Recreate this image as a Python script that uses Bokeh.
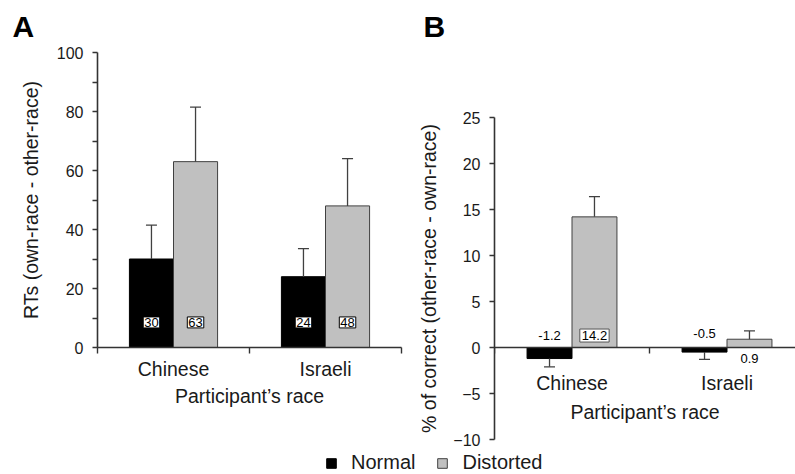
from bokeh.plotting import figure
from bokeh.models import Range1d, FixedTicker, Legend, LegendItem, Title
from bokeh.layouts import row, column
from bokeh.core.properties import value
from bokeh.embed import file_html
from bokeh.resources import INLINE

# ---------------- data ----------------
categories = ["Chinese", "Israeli"]
series = ["Normal", "Distorted"]

# Panel A: RTs (own-race - other-race)
rt_normal = [30, 24]
rt_distorted = [63, 48]
rt_normal_err = [41.5, 33.5]      # upper end of error bar
rt_distorted_err = [81.5, 64.0]
rt_ticks = [0, 20, 40, 60, 80, 100]
rt_minor_ticks = [10, 30, 50, 70, 90]

# Panel B: % of correct (other-race - own-race)
acc_normal = [-1.2, -0.5]
acc_distorted = [14.2, 0.9]
acc_normal_err = [-2.1, -1.3]     # end of error bar
acc_distorted_err = [16.4, 1.8]
acc_ticks = [-10, -5, 0, 5, 10, 15, 20, 25]

# ---------------- style ----------------
FONT = "Liberation Sans"
TXT = "#1a1a1a"
AX = "#333333"
C_NORMAL = "#000000"
C_DIST = "#c0c0c0"
BAR_W = 0.29
OFF = 0.145

cat_centers = [i + 0.5 for i in range(len(categories))]
cat_bounds = [i for i in range(len(categories) + 1)]


def style(p):
    p.outline_line_color = None
    p.background_fill_color = "white"
    p.border_fill_color = "white"
    p.xgrid.visible = False
    p.ygrid.visible = False
    for ax in p.axis:
        ax.axis_line_color = AX
        ax.axis_line_width = 1.6
        ax.major_tick_line_color = AX
        ax.minor_tick_line_color = AX
        ax.major_tick_line_width = 1.4
        ax.minor_tick_line_width = 1.4
        ax.major_tick_in = 0
        ax.minor_tick_in = 0
        ax.major_label_text_font = FONT
        ax.major_label_text_color = TXT
        ax.axis_label_text_font = FONT
        ax.axis_label_text_color = TXT
        ax.axis_label_text_font_style = "normal"
        ax.axis_label_text_font_size = "19.5px"
    xa = p.xaxis[0]
    xa.ticker = FixedTicker(ticks=cat_centers, minor_ticks=cat_bounds)
    xa.major_label_overrides = {c: n for c, n in zip(cat_centers, categories)}
    xa.major_tick_out = 0
    xa.minor_tick_out = 6
    xa.major_label_text_font_size = "19.5px"
    xa.axis_label = "Participant\u2019s race"
    ya = p.yaxis[0]
    ya.major_tick_out = 5
    ya.minor_tick_out = 5
    ya.major_label_text_font_size = "16px"
    ya.major_label_standoff = 9


def panel_title(p, text, offset, standoff):
    p.title = Title(text=text, align="left", offset=offset, standoff=standoff,
                    vertical_align="top", text_font=FONT, text_font_size="30px",
                    text_font_style="bold", text_color="#000000")


def draw(p, normal, distorted, nerr, derr):
    xn = [c - OFF for c in cat_centers]
    xd = [c + OFF for c in cat_centers]
    p.vbar(x=xn, top=normal, bottom=0, width=BAR_W, fill_color=C_NORMAL,
           line_color="#000000", line_width=1)
    p.vbar(x=xd, top=distorted, bottom=0, width=BAR_W, fill_color=C_DIST,
           line_color="#404040", line_width=1)
    for xs, v, e in ((xn, normal, nerr), (xd, distorted, derr)):
        p.segment(x0=xs, y0=v, x1=xs, y1=e, line_color="#404040", line_width=1.3)
        p.scatter(x=xs, y=e, marker="dash", size=11, line_color="#404040", line_width=1.3)
    return xn, xd


ROW_H = 450

# ---------------- Panel A ----------------
pA = figure(width=408, height=ROW_H, x_range=Range1d(0, 2), y_range=Range1d(0, 100),
            toolbar_location=None, output_backend="svg", frame_align=False,
            min_border_left=97, min_border_right=7, min_border_top=52,
            min_border_bottom=ROW_H - 347)
style(pA)
panel_title(pA, "A", -85, 15)
pA.yaxis[0].ticker = FixedTicker(ticks=rt_ticks, minor_ticks=rt_minor_ticks)
pA.yaxis[0].axis_label = "RTs (own-race - other-race)"
pA.yaxis[0].axis_label_standoff = 12
pA.xaxis[0].major_label_standoff = 4
pA.xaxis[0].axis_label_standoff = 2
xnA, xdA = draw(pA, rt_normal, rt_distorted, rt_normal_err, rt_distorted_err)
label_y_A = 8.5
pA.text(x=xnA + xdA, y=[label_y_A] * 4, text=[str(v) for v in rt_normal + rt_distorted],
        text_font=value(FONT), text_font_size="13px", text_color="#000000",
        text_align="center", text_baseline="middle",
        background_fill_color="white", border_line_color="#000000", border_line_width=1,
        padding=1)

# ---------------- Panel B ----------------
x_end_B = 301 / 155.0
pB = figure(width=387, height=ROW_H, x_range=Range1d(0, x_end_B), y_range=Range1d(-10, 25),
            toolbar_location=None, output_backend="svg", frame_align=False,
            min_border_left=86, min_border_right=0, min_border_top=117,
            min_border_bottom=ROW_H - 439)
style(pB)
# extra blank lines keep the letter at the top of the (tall) top border
panel_title(pB, "B\n \n ", -71, 14)
pB.yaxis[0].ticker = FixedTicker(ticks=acc_ticks)
pB.yaxis[0].axis_label = "% of correct (other-race - own-race)"
pB.yaxis[0].axis_label_standoff = 10
pB.xaxis[0].fixed_location = 0
pB.xaxis[0].major_label_standoff = 18
pB.xaxis[0].axis_label_standoff = 4
xnB, xdB = draw(pB, acc_normal, acc_distorted, acc_normal_err, acc_distorted_err)
label_pos_B = [1.3, 1.5, 1.3, -1.2]   # Chinese N, Israeli N, Chinese D, Israeli D
vals_B = acc_normal + acc_distorted
xs_B = xnB + xdB
boxed = [i for i, v in enumerate(vals_B) if v > 2]
plain = [i for i, v in enumerate(vals_B) if v <= 2]
pB.text(x=[xs_B[i] for i in plain], y=[label_pos_B[i] for i in plain],
        text=[f"{vals_B[i]:.1f}" for i in plain],
        text_font=value(FONT), text_font_size="13px", text_color="#000000",
        text_align="center", text_baseline="middle")
pB.text(x=[xs_B[i] for i in boxed], y=[label_pos_B[i] for i in boxed],
        text=[f"{vals_B[i]:.1f}" for i in boxed],
        text_font=value(FONT), text_font_size="13px", text_color="#000000",
        text_align="center", text_baseline="middle",
        background_fill_color="white", border_line_color="#555555", border_line_width=1,
        padding=2)

# ---------------- Legend strip ----------------
pL = figure(width=795, height=474 - ROW_H, x_range=Range1d(0, 2), y_range=Range1d(0, 100),
            x_axis_type=None, y_axis_type=None, toolbar_location=None,
            output_backend="svg", min_border=0, frame_align=False)
pL.outline_line_color = None
pL.xgrid.visible = False
pL.ygrid.visible = False
rn = pL.vbar(x=cat_centers, top=rt_normal, width=BAR_W, fill_color=C_NORMAL,
             line_color="#000000")
rd = pL.vbar(x=cat_centers, top=rt_distorted, width=BAR_W, fill_color=C_DIST,
             line_color="#404040")
rn.visible = False   # only their legend swatches are shown
rd.visible = False
leg = Legend(items=[LegendItem(label=series[0], renderers=[rn]),
                    LegendItem(label=series[1], renderers=[rd])],
             location=(325, 0), orientation="horizontal", click_policy="none")
leg.border_line_color = None
leg.background_fill_alpha = 0
leg.padding = 0
leg.margin = 0
leg.glyph_width = 12
leg.glyph_height = 12
leg.label_standoff = 14
leg.spacing = 21
leg.label_height = 20
leg.label_text_font = FONT
leg.label_text_font_size = "20px"
leg.label_text_color = TXT
pL.add_layout(leg)

layout = column(row(pA, pB), pL)
open("out.html", "w").write(file_html(layout, INLINE))
